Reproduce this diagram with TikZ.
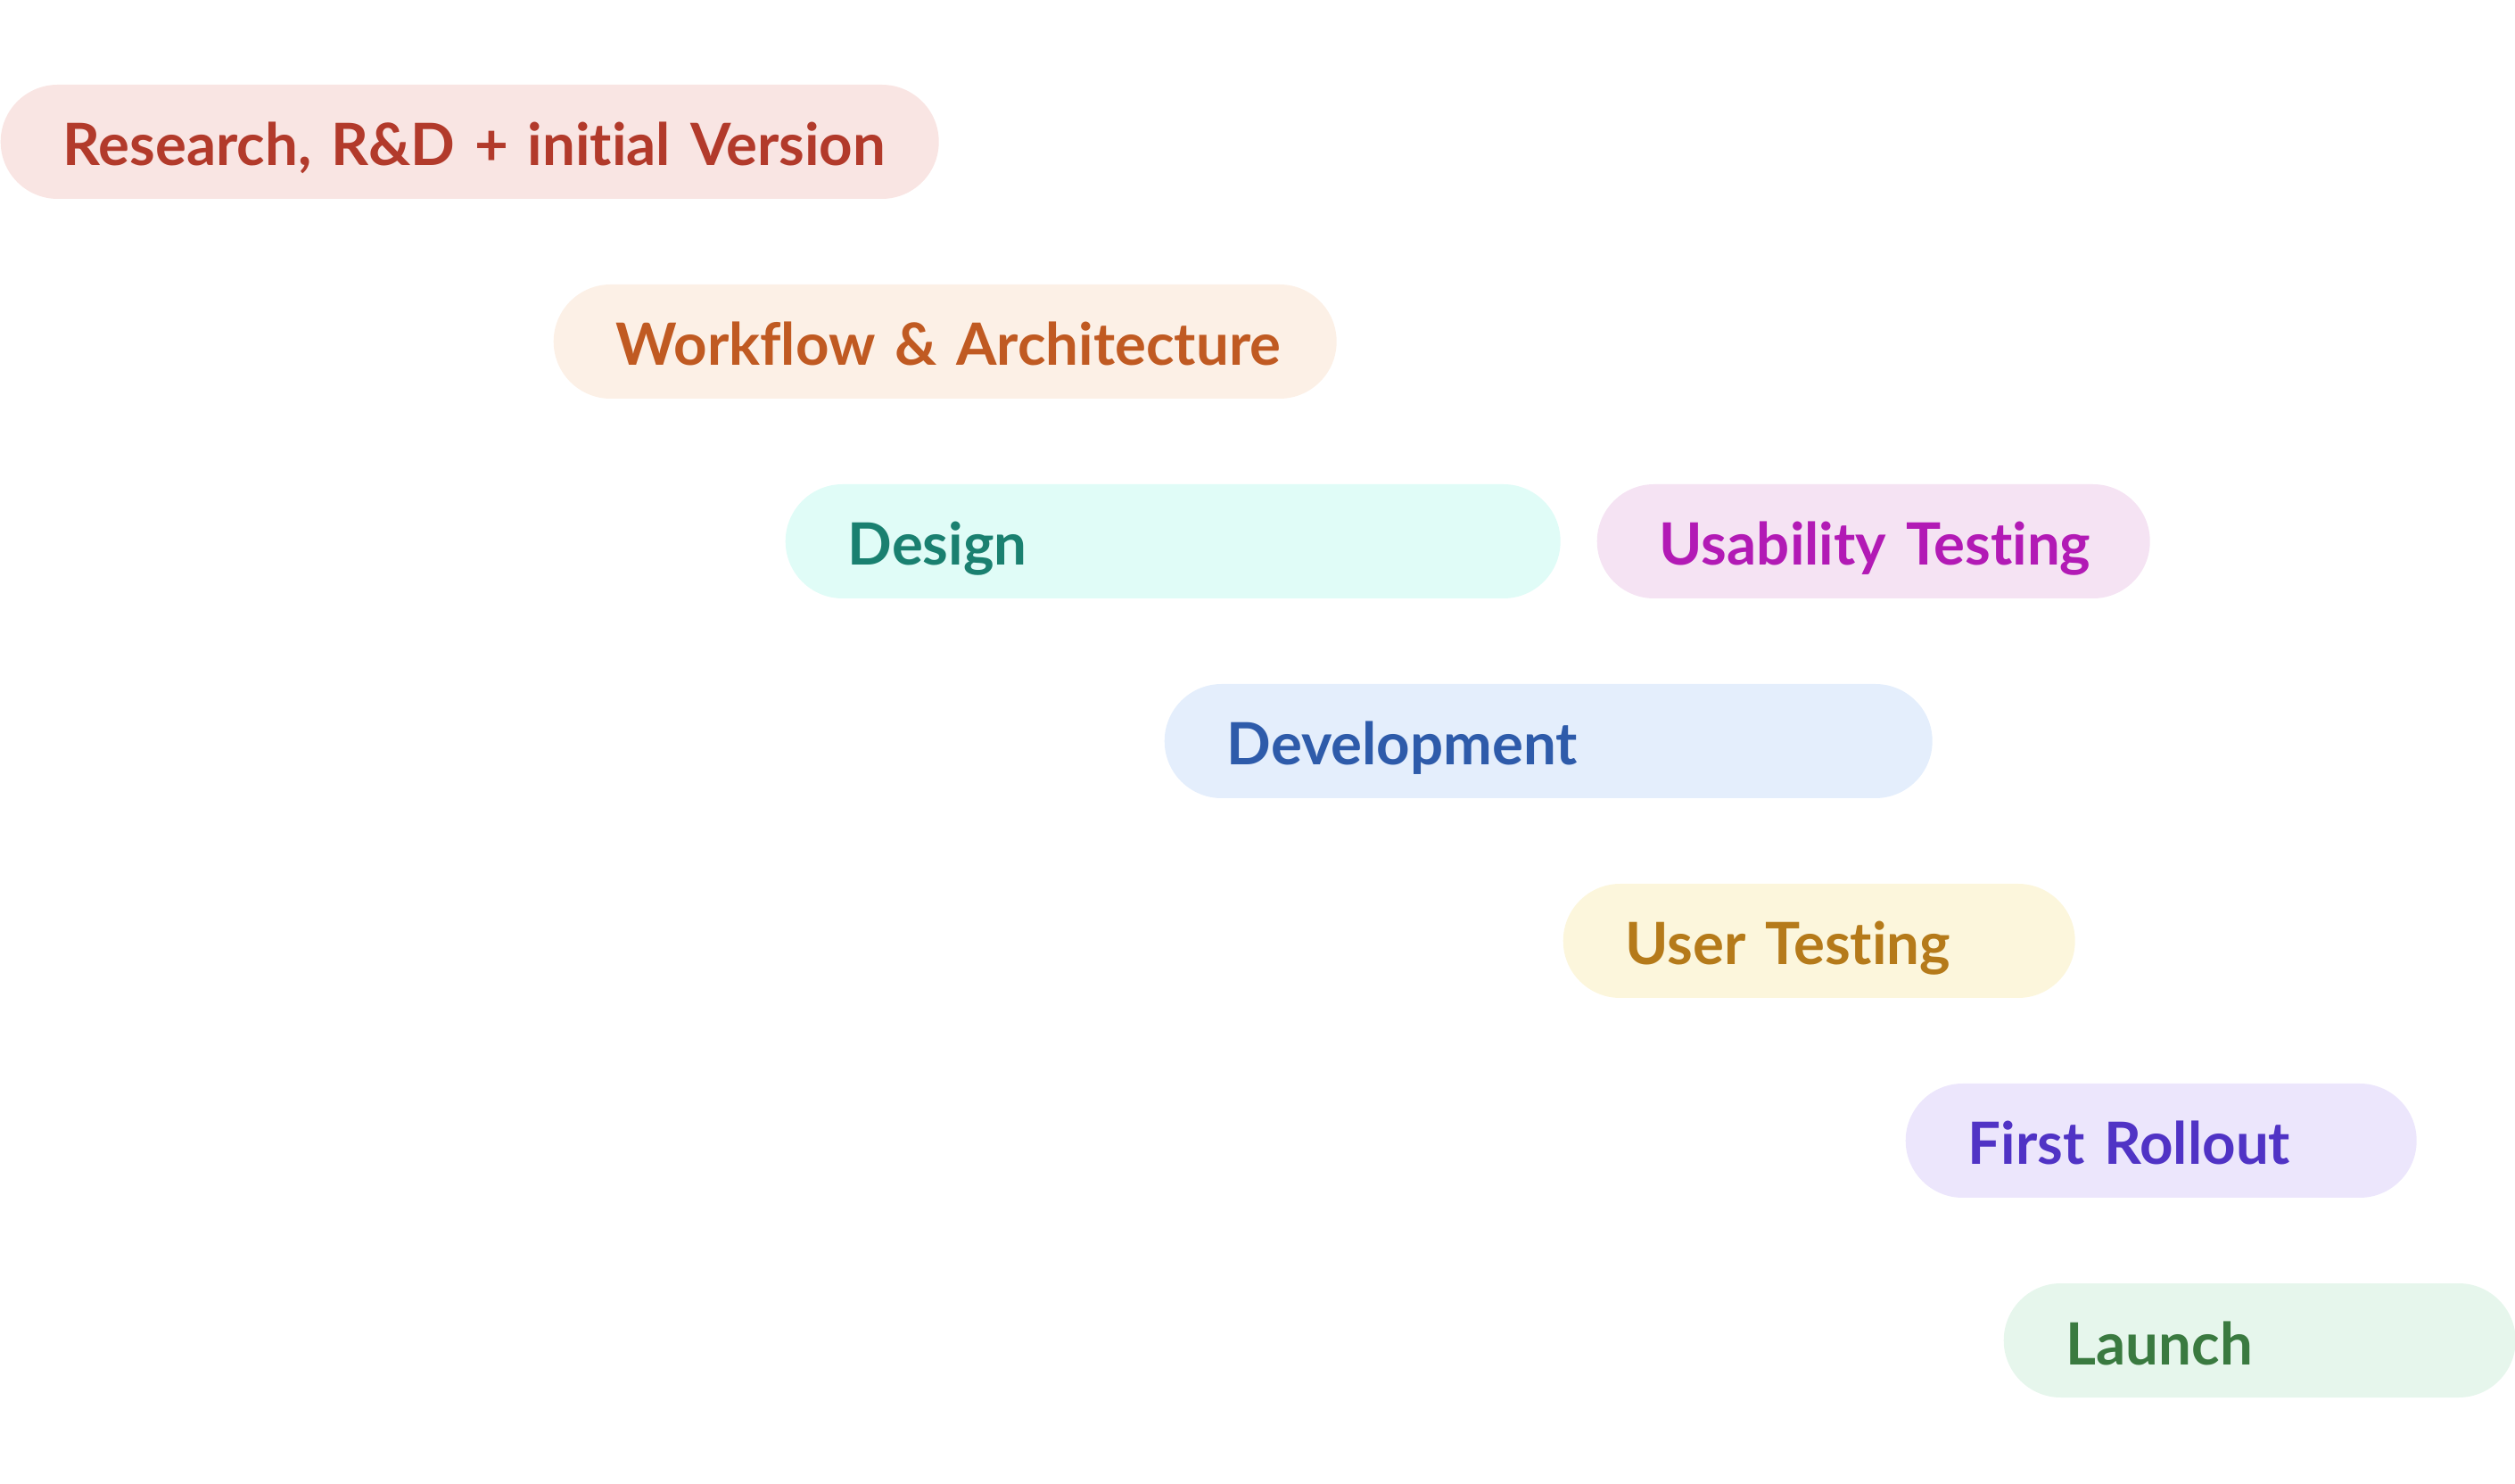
\documentclass[tikz,border=0pt]{standalone}
\usepackage{fontspec}
\setmainfont{Lato}[Ligatures={NoCommon,NoRequired,NoContextual}]
\usepackage{xcolor}

\definecolor{researchfill}{HTML}{F9E5E3}
\definecolor{researchtext}{HTML}{B23A2B}
\definecolor{workflowfill}{HTML}{FCF0E6}
\definecolor{workflowtext}{HTML}{C05A22}
\definecolor{designfill}{HTML}{E0FCF7}
\definecolor{designtext}{HTML}{1A8070}
\definecolor{usabilityfill}{HTML}{F5E3F3}
\definecolor{usabilitytext}{HTML}{B21AB5}
\definecolor{devfill}{HTML}{E4EEFC}
\definecolor{devtext}{HTML}{2E5BAA}
\definecolor{usertestfill}{HTML}{FCF6DC}
\definecolor{usertesttext}{HTML}{B57A1A}
\definecolor{rolloutfill}{HTML}{ECE6FC}
\definecolor{rollouttext}{HTML}{5033C5}
\definecolor{launchfill}{HTML}{E6F6EC}
\definecolor{launchtext}{HTML}{3A7A40}

\begin{document}
\begin{tikzpicture}[
    phase/.style = {
        rectangle,
        rounded corners=0.64cm,
        minimum height=1.28cm,
        inner xsep=0.35cm,
        inner ysep=0pt,
        text height=0.54cm,
        text depth=0pt,
        anchor=west,
        align=left,
        execute at begin node={\hspace*{0.35cm}},
        font=\fontsize{18.6}{20}\selectfont\bfseries
    },
]
    \useasboundingbox (0,0) rectangle (28.2,-16.64);

    % Row 1
    \node [phase, fill=researchfill, text=researchtext, text width=9.82cm]
        (research) at (0,-1.59) {Research, R\&D + initial Version};

    % Row 2
    \node [phase, fill=workflowfill, text=workflowtext, text width=8.08cm]
        (workflow) at (6.20,-3.83) {Workflow \& Architecture};

    % Row 3
    \node [phase, fill=designfill, text=designtext, text width=7.99cm]
        (design) at (8.80,-6.07) {Design};
    \node [phase, fill=usabilityfill, text=usabilitytext, text width=5.50cm]
        (usability) at (17.90,-6.07) {Usability Testing};

    % Row 4
    \node [phase, fill=devfill, text=devtext, text width=7.91cm]
        (development) at (13.05,-8.31) {Development};

    % Row 5
    \node [phase, fill=usertestfill, text=usertesttext, text width=5.04cm]
        (user_testing) at (17.52,-10.55) {User Testing};

    % Row 6
    \node [phase, fill=rolloutfill, text=rollouttext, text width=5.03cm]
        (first_rollout) at (21.36,-12.79) {First Rollout};

    % Row 7
    \node [phase, fill=launchfill, text=launchtext, text width=5.04cm]
        (launch) at (22.46,-15.03) {Launch};
\end{tikzpicture}
\end{document}
